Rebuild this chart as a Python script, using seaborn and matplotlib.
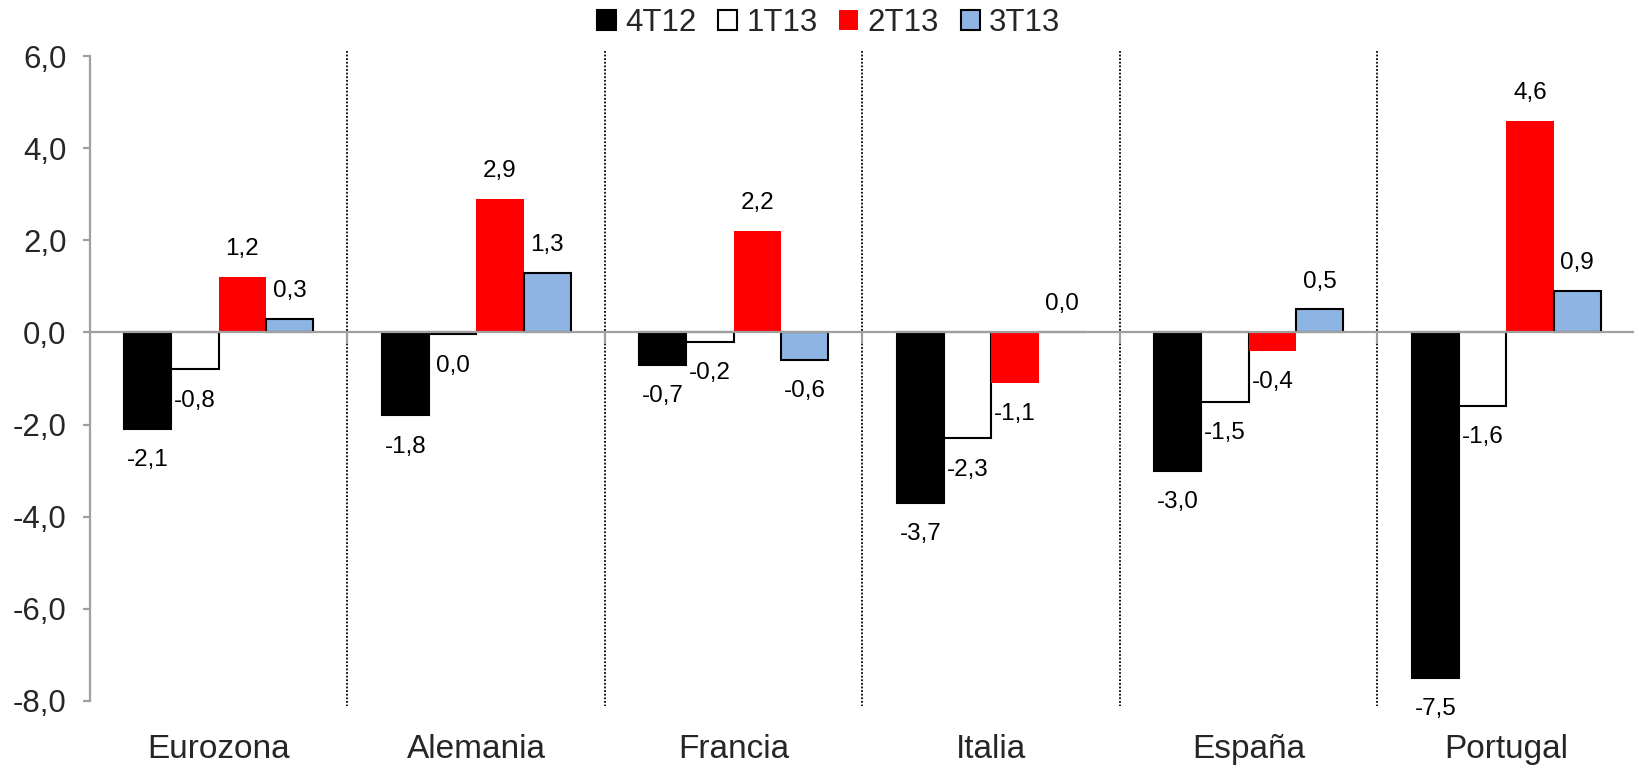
import numpy as np
import pandas as pd
import matplotlib
matplotlib.use("Agg")
import matplotlib.pyplot as plt
from matplotlib.ticker import FuncFormatter
import seaborn as sns

# Quarterly GDP change by economy (%)
countries = ["Eurozona", "Alemania", "Francia", "Italia", "España", "Portugal"]
series = ["4T12", "1T13", "2T13", "3T13"]
q4_12 = [-2.1, -1.8, -0.7, -3.7, -3.0, -7.5]
q1_13 = [-0.8, -0.04, -0.2, -2.3, -1.5, -1.6]
q2_13 = [1.2, 2.9, 2.2, -1.1, -0.4, 4.6]
q3_13 = [0.3, 1.3, -0.6, 0.02, 0.5, 0.9]
yticks = [6, 4, 2, 0, -2, -4, -6, -8]

fills = ["#000000", "#FFFFFF", "#FF0000", "#8EB4E3"]
edges = ["#000000", "#000000", "#FF0000", "#000000"]

df = pd.DataFrame({
    "pais": countries * 4,
    "serie": np.repeat(series, len(countries)),
    "valor": q4_12 + q1_13 + q2_13 + q3_13,
})

sns.set_theme(style="white")
plt.rcParams["font.family"] = ["Liberation Sans", "DejaVu Sans"]

fig = plt.figure(figsize=(16.34, 7.72), dpi=100)
ax = fig.add_axes([90 / 1634, 71 / 772, 1545 / 1634, 645 / 772])

sns.barplot(data=df, x="pais", y="valor", hue="serie", order=countries,
            hue_order=series, palette=fills, width=0.735, saturation=1,
            legend=False, ax=ax, zorder=2)

def fmt(v):
    return f"{round(v, 1) + 0.0:.1f}".replace(".", ",")

for cont, ec in zip(ax.containers, edges):
    for patch in cont.patches:
        patch.set_edgecolor(ec)
        patch.set_linewidth(1.5 if ec != "#FF0000" else 0)
        h = patch.get_height()
        xc = patch.get_x() + patch.get_width() / 2
        off = 20 if h >= 0 else -22.5
        ax.annotate(fmt(h), (xc, h), xytext=(0, off), textcoords="offset points",
                    ha="center", va="center", fontsize=17.5, color="black",
                    zorder=5)

ax.set_xlim(-0.5, len(countries) - 0.5)
ax.set_ylim(-8, 6)
ax.set_yticks(yticks)
ax.yaxis.set_major_formatter(FuncFormatter(lambda v, p: f"{v:.1f}".replace(".", ",")))
ax.set_xlabel("")
ax.set_ylabel("")

# Horizontal zero line and dotted group separators
ax.axhline(0, color="#A0A0A0", lw=1.6, zorder=4)
for i in range(len(countries) - 1):
    ax.plot([i + 0.5, i + 0.5], [6.1, -8.1], color="black", lw=1.3,
            linestyle=(0, (1, 1)), clip_on=False, zorder=3)
    ax.plot([i + 0.5, i + 0.5], [0, -0.22], color="#A0A0A0", lw=1.6, zorder=4)

for s in ["top", "right", "bottom"]:
    ax.spines[s].set_visible(False)
ax.spines["left"].set_color("#A0A0A0")
ax.spines["left"].set_linewidth(1.6)

ax.tick_params(axis="y", which="major", length=5, width=1.6, color="#A0A0A0",
               labelsize=22.5, pad=12, left=True, direction="out")
ax.tick_params(axis="x", length=0, labelsize=24, pad=24)

handles = [cont for cont in ax.containers]
fig.legend(handles, series, loc="center", bbox_to_anchor=(0.507, 0.970),
           ncol=4, frameon=False, fontsize=22.5, handlelength=0.6,
           handleheight=0.6, handletextpad=0.3, columnspacing=0.7,
           borderpad=0, borderaxespad=0)

fig.savefig("out.png", dpi=100)
